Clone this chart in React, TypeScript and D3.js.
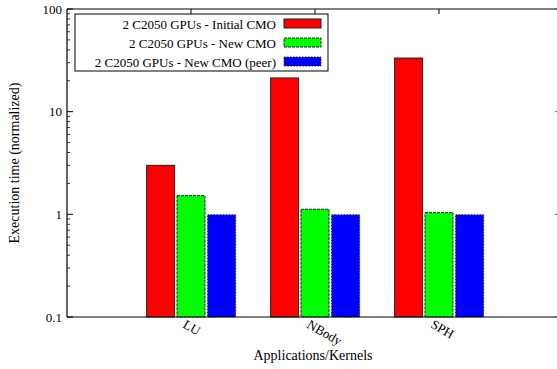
import React from "react";
import * as d3 from "d3";

const categories = ["LU", "NBody", "SPH"];
const seriesNames = [
  "2 C2050 GPUs - Initial CMO",
  "2 C2050 GPUs - New CMO",
  "2 C2050 GPUs - New CMO (peer)",
];
const initialCmo = [3.0, 21.3, 33.3];
const newCmo = [1.52, 1.12, 1.04];
const newCmoPeer = [0.99, 0.99, 0.99];
const yTicks = [0.1, 1, 10, 100];

const colors = ["#ff0000", "#00ff00", "#0000ff"];
const dashes = [null, "3,1", "1.5,1.5"];

export default function App() {
  const width = 557;
  const height = 369;
  const margin = { top: 9, left: 67, bottom: 317, right: 563 };
  const font = "'Liberation Serif', 'Times New Roman', serif";

  const x = d3.scaleLinear().domain([-1, categories.length]).range([margin.left, margin.right]);
  const y = d3.scaleLog().domain([0.1, 100]).range([margin.bottom, margin.top]);
  const unit = x(1) - x(0);
  const barW = unit * 0.226;
  const offsets = [-0.245, 0, 0.247];
  const series = [initialCmo, newCmo, newCmoPeer];

  const minor: number[] = [];
  for (let d = 0.1; d < 100; d *= 10) {
    for (let k = 2; k <= 9; k++) minor.push(d * k);
  }

  return (
    <svg width={width} height={height} style={{ display: "block", position: "absolute", left: 0, top: 0 }}>
      <rect width={width} height={height} fill="#fff" />
      {/* bars */}
      {series.map((vals, s) =>
        vals.map((v, i) => (
          <rect
            key={`${s}-${i}`}
            x={x(i + offsets[s]) - barW / 2}
            y={y(v)}
            width={barW}
            height={y(0.1) - y(v)}
            fill={colors[s]}
            stroke="#222"
            strokeWidth={1}
            strokeDasharray={dashes[s] ?? undefined}
          />
        ))
      )}
      {/* axes frame */}
      <line x1={margin.left} x2={margin.left} y1={margin.top} y2={margin.bottom} stroke="#000" strokeWidth={1.2} />
      <line x1={margin.left} x2={width} y1={margin.bottom} y2={margin.bottom} stroke="#000" strokeWidth={1.2} />
      <line x1={margin.left} x2={width} y1={margin.top} y2={margin.top} stroke="#000" strokeWidth={1.2} />
      {/* y ticks */}
      {yTicks.map((t) => (
        <g key={t}>
          <line x1={margin.left} x2={margin.left + 6} y1={y(t)} y2={y(t)} stroke="#000" />
          <line x1={width - 2} x2={width} y1={y(t)} y2={y(t)} stroke="#555" />
          <text x={margin.left - 5} y={y(t) + 4.5} textAnchor="end" fontFamily={font} fontSize={13}>
            {t}
          </text>
        </g>
      ))}
      {minor.map((t) => (
        <line key={t} x1={margin.left} x2={margin.left + 3} y1={y(t)} y2={y(t)} stroke="#000" strokeWidth={0.8} />
      ))}
      {/* x ticks and labels */}
      {categories.map((c, i) => (
        <g key={c}>
          <line x1={x(i)} x2={x(i)} y1={margin.top} y2={margin.top + 5} stroke="#000" />
          <text
            transform={`translate(${x(i) - 9},${margin.bottom + 10}) rotate(30)`}
            fontFamily={font}
            fontSize={13}
          >
            {c}
          </text>
        </g>
      ))}
      <text x={313} y={360} textAnchor="middle" fontFamily={font} fontSize={14}>
        Applications/Kernels
      </text>
      <text
        transform={`translate(19,${(margin.top + margin.bottom) / 2}) rotate(-90)`}
        textAnchor="middle"
        fontFamily={font}
        fontSize={14}
      >
        Execution time (normalized)
      </text>
      {/* legend */}
      <rect x={75} y={14} width={253} height={57} fill="#fff" stroke="#000" strokeWidth={1} />
      {seriesNames.map((n, s) => (
        <g key={n}>
          <text x={276} y={28.5 + s * 19} textAnchor="end" fontFamily={font} fontSize={13}>
            {n}
          </text>
          <rect
            x={284}
            y={19 + s * 19}
            width={37}
            height={9}
            fill={colors[s]}
            stroke="#222"
            strokeDasharray={dashes[s] ?? undefined}
          />
        </g>
      ))}
    </svg>
  );
}
